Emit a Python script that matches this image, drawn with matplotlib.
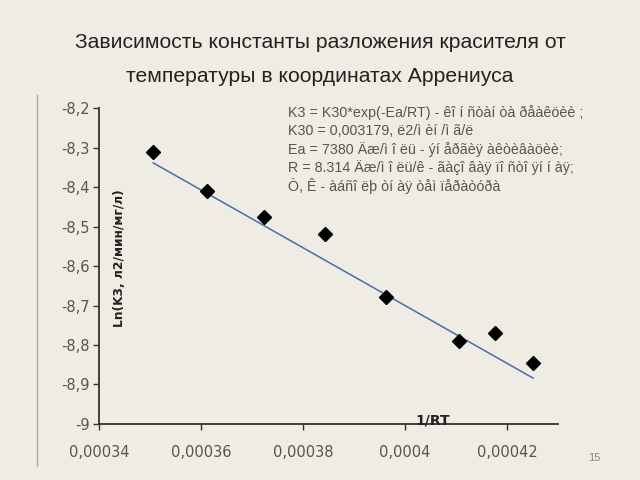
import matplotlib.pyplot as plt
from matplotlib.lines import Line2D

# 1/RT and ln(K3)
inv_rt = [0.0003506, 0.0003612, 0.0003723, 0.0003842, 0.0003962, 0.0004105, 0.0004176, 0.0004251]
ln_k3 = [-8.310, -8.409, -8.476, -8.519, -8.677, -8.790, -8.769, -8.846]

# trend line ends as drawn in the picture
trend_x = [0.0003506, 0.0004251]
trend_y = [-8.338, -8.884]

x_ticks = [0.00034, 0.00036, 0.00038, 0.0004, 0.00042]
x_tick_labels = ['0,00034', '0,00036', '0,00038', '0,0004', '0,00042']
y_ticks = [-9, -8.9, -8.8, -8.7, -8.6, -8.5, -8.4, -8.3, -8.2]
y_tick_labels = ['-9', '-8,9', '-8,8', '-8,7', '-8,6', '-8,5', '-8,4', '-8,3', '-8,2']

title_lines = ['Зависимость константы разложения красителя от',
               'температуры в координатах Аррениуса']
note_lines = ['K3 = K30*exp(-Ea/RT) - êî í ñòàí òà ðåàêöèè ;',
              'K30 = 0,003179, ë2/ì èí /ì ã/ë',
              'Ea = 7380 Äæ/ì î ëü - ýí åðãèÿ àêòèâàöèè;',
              'R = 8.314 Äæ/ì î ëü/ê - ãàçî âàÿ ïî ñòî ÿí í àÿ;',
              'Ò, Ê - àáñî ëþ òí àÿ òåì ïåðàòóðà']

bg = '#EEECE3'
plt.rcParams['font.family'] = ['Liberation Sans', 'DejaVu Sans']

fig = plt.figure(figsize=(6.4, 4.8), dpi=100, facecolor=bg)
ax = fig.add_axes([0.155, 0.117, 0.717, 0.657], facecolor=bg)

ax.plot(trend_x, trend_y, color='#4A6BAE', lw=1.1, zorder=2)
ax.plot(inv_rt, ln_k3, 'D', color='black', markersize=7, zorder=3)

ax.set_xlim(0.00034, 0.00043)
ax.set_ylim(-9, -8.2)
ax.set_xticks(x_ticks)
ax.set_xticklabels(x_tick_labels, family='DejaVu Sans', fontsize=10.5, color='#555555')
ax.set_yticks(y_ticks)
ax.set_yticklabels(y_tick_labels, family='DejaVu Sans', fontsize=10.5, color='#555555')
ax.tick_params(axis='x', direction='out', length=4, width=1, color='#333333', pad=11)
ax.tick_params(axis='y', direction='out', length=4, width=1, color='#333333', pad=3)
for s in ['top', 'right']:
    ax.spines[s].set_visible(False)
for s in ['left', 'bottom']:
    ax.spines[s].set_color('#333333')
    ax.spines[s].set_linewidth(1.3)

ax.text(0.00034 + 0.00000275, -8.579, 'Ln(K3, л2/мин/мг/л)', rotation=90, ha='left', va='center',
        family='DejaVu Sans', fontsize=8.8, fontweight='bold', color='#222222')
fig.text(433 / 640, 1 - 421 / 480, '1/RT', ha='center', va='center',
         family='DejaVu Sans', fontsize=10, fontweight='bold', color='#222222')

fig.text(0.5, 1 - 42 / 480, title_lines[0], ha='center', va='center', fontsize=15.2, color='#222222')
fig.text(0.5, 1 - 76 / 480, title_lines[1], ha='center', va='center', fontsize=15.2, color='#222222')

for i, line in enumerate(note_lines):
    fig.text(288 / 640, 1 - (113 + i * 18.3) / 480, line, ha='left', va='center',
             fontsize=10.3, color='#555555')

fig.text(594 / 640, 1 - 458 / 480, '15', ha='center', va='center', fontsize=8, color='#888888')
fig.add_artist(Line2D([37 / 640, 37 / 640], [1 - 95 / 480, 1 - 466 / 480],
                      transform=fig.transFigure, color='#AAAAAA', lw=1))

fig.savefig('out.png', dpi=100, facecolor=bg)
